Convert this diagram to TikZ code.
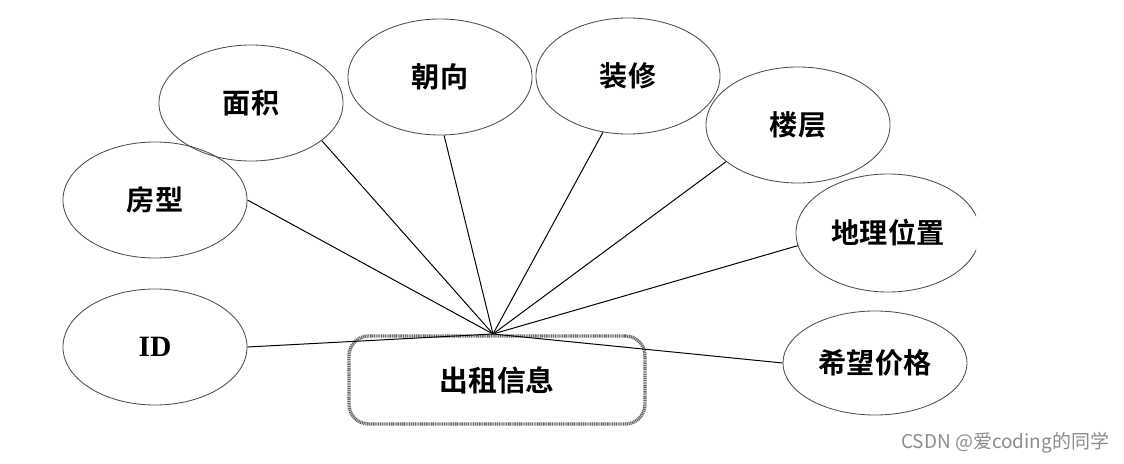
\documentclass[tikz,border=0pt]{standalone}
\usepackage{fontspec}
\setmainfont{Liberation Serif}
\newfontfamily\cjk{Noto Sans CJK SC}[BoldFont={Noto Sans CJK SC Bold}]
\usepackage{tikz}
\usetikzlibrary{shapes.geometric}

\begin{document}
\begin{tikzpicture}[
    x=0.025cm, y=-0.025cm,
    attr/.style={draw=black!70, line width=0.6pt, ellipse, minimum width=4.6cm, minimum height=2.9cm, font=\cjk\bfseries\fontsize{20}{24}\selectfont},
    ent/.style={draw=black!60, line width=2.4pt, dash pattern=on 0.8pt off 0.5pt, rounded corners=14pt, minimum width=7.4cm, minimum height=2.2cm, font=\cjk\bfseries\fontsize{20.5}{24}\selectfont},
    link/.style={draw=black, line width=0.7pt},
]
\useasboundingbox (0,0) rectangle (1124,464);

% entity
\node[ent] (rent) at (497,380) {出租信息};
\coordinate (hub) at (493,334);

% attributes
\node[attr] (area)   at (251,103) {面积};
\node[attr] (facing) at (440,77)  {朝向};
\node[attr] (decor)  at (628,76)  {装修};
\node[attr] (floor)  at (798,125) {楼层};
\node[attr] (type)   at (155,200) {房型};
\node[attr, font=\bfseries\fontsize{21}{24}\selectfont] (id) at (155,347) {ID};
\node[attr, minimum height=2.6cm] (price) at (875,363) {希望价格};
\begin{scope}
  \clip (0,0) rectangle (976,464);
  \node[attr, minimum height=2.95cm] (place) at (888,233) {地理位置};
\end{scope}

% connectors
\foreach \a/\ang in {area/-28,facing/-86,decor/-114,floor/-153,type/0,id/0,price/180,place/-172}
  \draw[link] (\a.\ang) -- (hub);

% watermark
\node[text=black!45, font=\cjk\fontsize{13.5}{16}\selectfont, anchor=east] (mark) at (1114,443) {CSDN @爱coding的同学};
\end{tikzpicture}
\end{document}
